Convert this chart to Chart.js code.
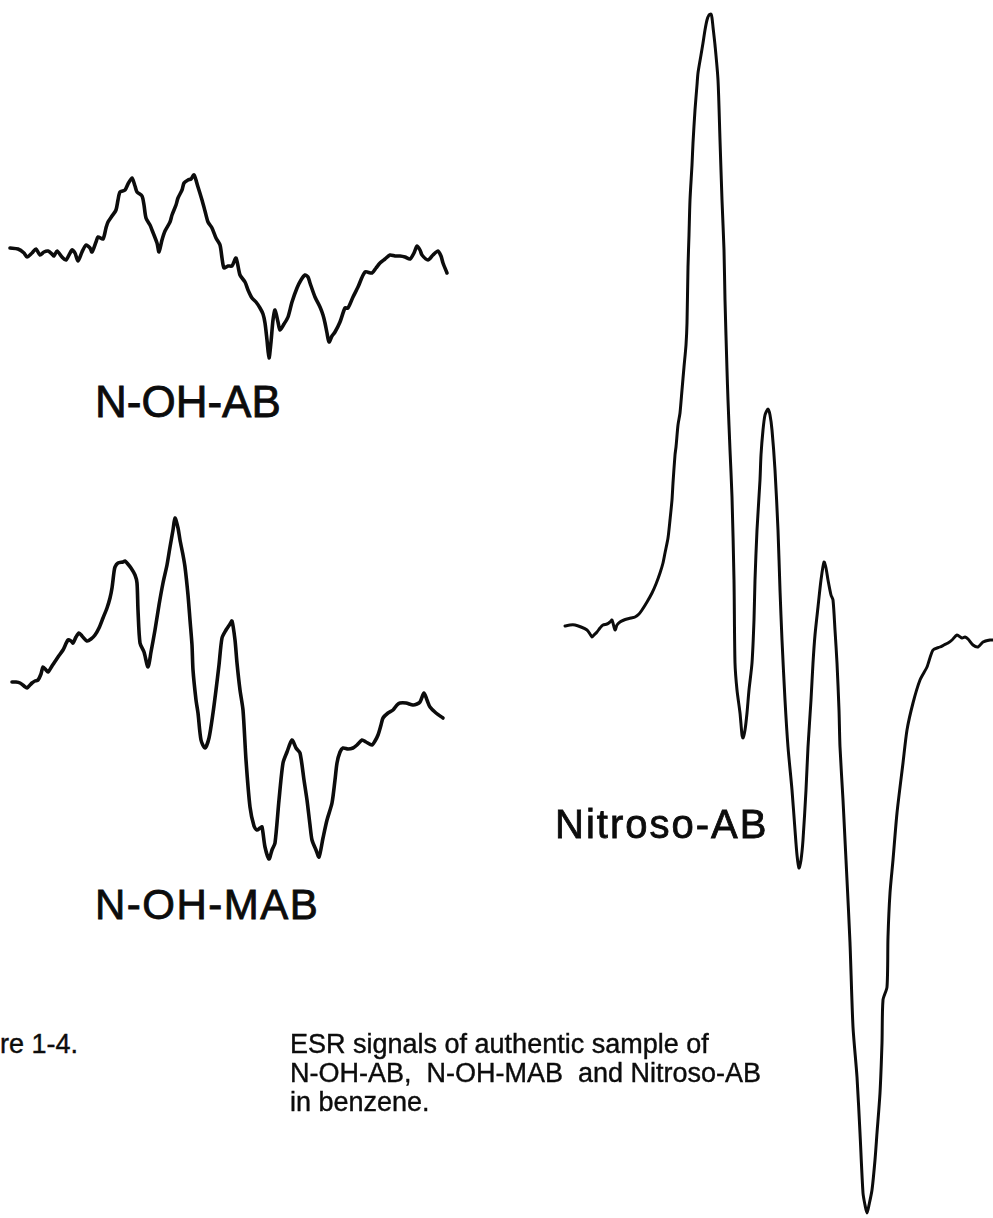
<!DOCTYPE html>
<html>
<head>
<meta charset="utf-8">
<title>ESR signals of authentic samples</title>
<script src="https://cdn.jsdelivr.net/npm/chart.js@4.4.1/dist/chart.umd.min.js"></script>
<style>
  html, body { margin: 0; padding: 0; background: #fff; width: 993px; height: 1218px; overflow: hidden; }
  body { position: relative; font-family: "Liberation Sans", Arial, sans-serif; color: #0c0c0c; }
  canvas { position: absolute; }
  .label { position: absolute; line-height: 1; white-space: pre; -webkit-text-stroke: 0.8px #0c0c0c; }
  .caption { position: absolute; font-size: 27px; line-height: 29px; white-space: pre; -webkit-text-stroke: 0.4px #0c0c0c; }
</style>
</head>
<body>
<canvas id="traceAB"></canvas>
<canvas id="traceMAB"></canvas>
<canvas id="traceNitroso"></canvas>

<div class="label" style="left:95px; top:380px; font-size:44px;">N-OH-AB</div>
<div class="label" style="left:95px; top:884px; font-size:42px; letter-spacing:1.5px;">N-OH-MAB</div>
<div class="label" style="left:555px; top:804px; font-size:40px; letter-spacing:2px;">Nitroso-AB</div>

<div class="caption" style="left:0px; top:1030px;">re 1-4.</div>
<div class="caption" style="left:290px; top:1030px;">ESR signals of authentic sample of
N-OH-AB,  N-OH-MAB  and Nitroso-AB
in benzene.</div>

<script>
// N-OH-AB : field (arbitrary units) and signal (arbitrary units)
const abField = [0, 8, 14, 17, 22, 26, 30, 34, 38, 42, 44, 47, 52, 56, 62, 65, 68, 72, 76, 80,
    82, 86, 88, 93, 96, 98, 102, 106, 108, 110, 115, 118, 122, 125, 127, 132, 134, 136, 140, 142,
    147, 149, 152, 155, 160, 162, 166, 168, 172, 174, 178, 181, 184, 188, 192, 195, 198, 202, 206, 210,
    212, 214, 218, 222, 226, 230, 235, 238, 242, 246, 250, 253, 255, 257, 259, 261, 263, 265, 268, 270,
    274, 278, 282, 287, 291, 295, 298, 300, 305, 310, 313, 315, 317, 319, 322, 325, 330, 335, 338, 343,
    348, 355, 362, 366, 370, 375, 380, 385, 390, 395, 400, 404, 407, 410, 412, 418, 423, 428, 431, 433, 437];
const abSignal = [2, 1, -3, -7, -3, 1, -5, -2, -1, -4, -6, -1, -7, -10, 0, -3, -11, -2, 5, 2,
    -2, 8, 13, 11, 22, 28, 34, 40, 50, 58, 60, 66, 72, 64, 58, 54, 45, 32, 25, 20,
    7, -2, 10, 19, 28, 35, 45, 52, 60, 67, 70, 71, 75, 63, 50, 39, 28, 22, 12, 5,
    -8, -18, -16, -16, -8, -25, -32, -40, -48, -52, -58, -64, -73, -90, -108, -92, -70, -60, -72, -80,
    -74, -67, -52, -38, -30, -25, -27, -33, -47, -57, -65, -73, -83, -92, -86, -82, -72, -58, -58, -47,
    -37, -22, -23, -18, -13, -9, -5, -6, -6, -7, -9, -3, 4, 0, -5, -10, -5, -1, -6, -13, -23];

// N-OH-MAB
const mabField = [0, 4, 8, 12, 15, 18, 20, 23, 26, 29, 31, 34, 36, 40, 46, 51, 56, 59, 61, 64,
    67, 70, 75, 79, 83, 87, 91, 95, 98, 100, 102, 103, 106, 111, 113, 115, 119, 123, 125, 126,
    128, 132, 136, 139, 143, 147, 151, 155, 158, 161, 163, 166, 168, 171, 173, 176, 178, 180, 181, 184,
    186, 189, 193, 197, 201, 204, 207, 210, 214, 218, 220, 223, 225, 228, 231, 234, 238, 242, 245, 248,
    250, 253, 257, 260, 263, 267, 271, 275, 280, 284, 288, 292, 295, 298, 300, 304, 307, 311, 315, 320,
    323, 325, 328, 331, 336, 341, 345, 350, 354, 360, 363, 366, 369, 371, 376, 381, 385, 388, 394, 401,
    405, 408, 412, 415, 418, 424, 431];
const mabSignal = [0, 0, -1, -4, -6, -3, -1, 1, 2, 8, 15, 12, 10, 16, 25, 32, 42, 41, 39, 45,
    49, 46, 41, 43, 47, 54, 64, 74, 84, 94, 110, 115, 119, 120, 121, 119, 114, 107, 99, 72,
    39, 30, 15, 30, 52, 77, 99, 117, 135, 152, 164, 154, 142, 127, 115, 87, 62, 37, 12, -18,
    -31, -58, -66, -56, -31, -8, 17, 44, 52, 58, 61, 42, 19, -8, -28, -78, -125, -144, -148, -146,
    -145, -165, -177, -168, -161, -118, -81, -70, -58, -66, -71, -98, -118, -143, -158, -168, -175, -156, -138, -121,
    -98, -81, -70, -66, -67, -66, -63, -58, -60, -63, -59, -53, -43, -36, -31, -28, -23, -21, -21, -23,
    -22, -20, -11, -18, -25, -31, -36];

// Nitroso-AB
const nitrosoField = [0, 5, 10, 16, 22, 25, 27, 29, 32, 35, 38, 42, 45, 47, 50, 52, 55, 59, 62, 66,
    70, 74, 77, 82, 87, 91, 95, 98, 100, 103, 105, 107, 108, 110, 111, 113, 115, 117, 119, 121,
    122, 123, 124, 125, 127, 128, 130, 132, 133, 136, 138, 140, 142, 144, 146, 147, 148, 150, 153, 155,
    157, 159, 160, 162, 163, 165, 167, 169, 170, 172, 175, 177, 178, 180, 182, 184, 187, 189, 190, 192,
    195, 196, 198, 200, 203, 205, 207, 210, 213, 215, 217, 220, 223, 227, 230, 232, 234, 236, 238, 241,
    243, 246, 248, 250, 253, 256, 259, 261, 263, 266, 268, 270, 272, 274, 275, 278, 280, 282, 285, 288,
    292, 295, 298, 300, 302, 304, 307, 310, 312, 315, 317, 318, 322, 323, 325, 328, 332, 338, 342, 348,
    355, 362, 368, 375, 379, 383, 387, 392, 397, 400, 403, 408, 413, 418, 425, 428];
const nitrosoSignal = [0, 1, 1, -1, -4, -8, -11, -9, -6, -2, 1, 2, 4, 6, -4, 1, 4, 6, 7, 8,
    9, 12, 16, 24, 33, 42, 53, 63, 73, 88, 106, 126, 143, 171, 179, 201, 213, 236, 259, 281,
    303, 359, 391, 426, 461, 483, 516, 541, 553, 571, 583, 596, 606, 611, 612, 608, 599, 581, 546, 486,
    426, 376, 326, 256, 226, 176, 129, 46, -37, -64, -87, -109, -112, -104, -87, -64, -37, 6, 46, 96,
    146, 171, 196, 211, 217, 211, 196, 156, 96, 36, -14, -74, -121, -164, -204, -229, -242, -234, -214, -164,
    -121, -74, -37, -9, 19, 46, 64, 58, 46, 31, 26, -4, -37, -84, -121, -174, -214, -254, -317, -401,
    -451, -507, -567, -579, -587, -579, -564, -534, -507, -467, -417, -374, -361, -311, -267, -234, -187, -137, -104, -77,
    -54, -41, -24, -21, -19, -17, -14, -9, -12, -11, -13, -19, -21, -16, -14, -14];

// where field 0 / signal 0 of each trace sits on the page
const layout = {
    traceAB: { x: 10, y: 250, width: 3.6 },
    traceMAB: { x: 12, y: 682, width: 3.6 },
    traceNitroso: { x: 565, y: 626, width: 3 }
};

function drawTrace(canvasId, fields, signals) {
    const place = layout[canvasId];
    const pad = 6;
    const minX = Math.min(...fields) - pad;
    const maxX = Math.max(...fields) + pad;
    const minY = Math.min(...signals) - pad;
    const maxY = Math.max(...signals) + pad;

    // one signal unit = one pixel
    const canvas = document.getElementById(canvasId);
    canvas.width = maxX - minX;
    canvas.height = maxY - minY;
    canvas.style.left = (place.x + minX) + 'px';
    canvas.style.top = (place.y - maxY) + 'px';

    const points = fields.map((f, i) => ({ x: f, y: signals[i] }));

    new Chart(canvas, {
        type: 'line',
        data: {
            datasets: [{
                data: points,
                borderColor: '#0c0c0c',
                borderWidth: place.width,
                borderJoinStyle: 'round',
                borderCapStyle: 'round',
                pointRadius: 0,
                tension: 0.25,
                fill: false
            }]
        },
        options: {
            responsive: false,
            animation: false,
            devicePixelRatio: 1,
            layout: { padding: 0 },
            plugins: {
                legend: { display: false },
                tooltip: { enabled: false }
            },
            scales: {
                x: { type: 'linear', min: minX, max: maxX, display: false },
                y: { type: 'linear', min: minY, max: maxY, display: false }
            }
        }
    });
}

drawTrace('traceAB', abField, abSignal);
drawTrace('traceMAB', mabField, mabSignal);
drawTrace('traceNitroso', nitrosoField, nitrosoSignal);
</script>
</body>
</html>
